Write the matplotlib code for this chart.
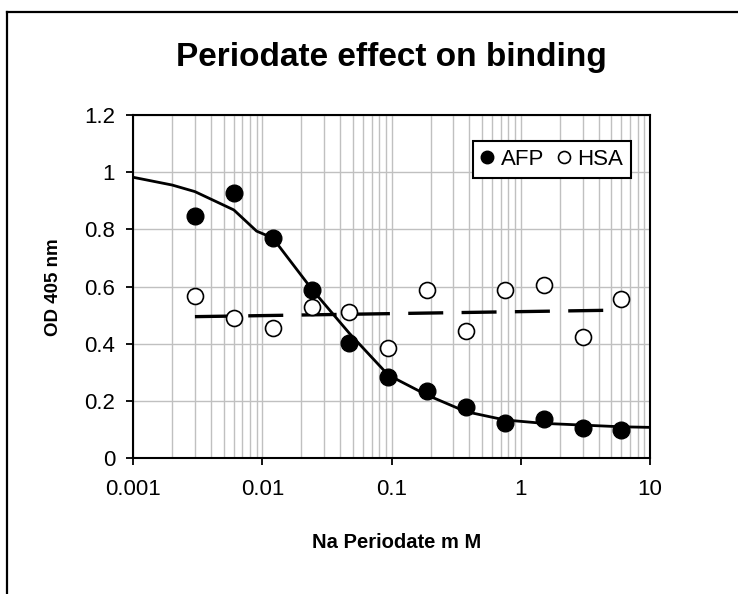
import numpy as np
import matplotlib.pyplot as plt
from matplotlib.lines import Line2D
from matplotlib.ticker import LogLocator, FixedLocator, NullFormatter

plt.rcParams['font.family'] = ['Liberation Sans', 'DejaVu Sans']

# Na periodate concentrations (mM)
conc = [0.003, 0.006, 0.012, 0.024, 0.047, 0.094, 0.1875, 0.375, 0.75, 1.5, 3, 6]
afp = [0.848, 0.926, 0.771, 0.588, 0.404, 0.285, 0.235, 0.178, 0.125, 0.138, 0.106, 0.100]
hsa = [0.568, 0.492, 0.457, 0.530, 0.510, 0.387, 0.588, 0.445, 0.588, 0.606, 0.425, 0.557]

# fitted curves
afp_fit_x = [0.001, 0.002, 0.003, 0.006, 0.009, 0.012, 0.024, 0.047, 0.094, 0.1875, 0.375, 0.75, 1.5, 3, 6, 10]
afp_fit_y = [0.982, 0.955, 0.932, 0.868, 0.794, 0.770, 0.592, 0.437, 0.291, 0.221, 0.163, 0.134, 0.122, 0.116, 0.110, 0.108]
hsa_fit_x = [0.003, 6]
hsa_fit_y = [0.495, 0.518]

x_ticks = [0.001, 0.01, 0.1, 1, 10]
x_labels = ['0.001', '0.01', '0.1', '1', '10']
y_ticks = [0, 0.2, 0.4, 0.6, 0.8, 1, 1.2]
y_labels = ['0', '0.2', '0.4', '0.6', '0.8', '1', '1.2']

fig = plt.figure(figsize=(7.38, 5.94), dpi=100)
ax = fig.add_axes([0.1806, 0.2285, 0.7003, 0.578])

# outer chart frame (runs off the right and bottom edges)
fig.add_artist(Line2D([0.0095, 1.0], [0.980, 0.980], color='black', lw=1.6, transform=fig.transFigure))
fig.add_artist(Line2D([0.0095, 0.0095], [0.0, 0.980], color='black', lw=1.6, transform=fig.transFigure))

ax.plot(afp_fit_x, afp_fit_y, color='black', lw=2.0, zorder=3)
ax.plot(hsa_fit_x, hsa_fit_y, color='black', lw=2.4, dashes=(10.5, 5.5), zorder=3)
ax.plot(conc, afp, 'o', color='black', ms=12, zorder=4, label='AFP')
ax.plot(conc, hsa, 'o', mfc='white', mec='black', mew=1.2, ms=11.5, zorder=4, label='HSA')

ax.set_xscale('log')
ax.set_xlim(0.001, 10)
ax.set_ylim(0, 1.2)

ax.xaxis.set_major_locator(FixedLocator(x_ticks))
ax.set_xticks(x_ticks)
ax.set_xticklabels(x_labels)
ax.xaxis.set_minor_locator(LogLocator(base=10, subs=np.arange(2, 10)))
ax.xaxis.set_minor_formatter(NullFormatter())
ax.set_yticks(y_ticks)
ax.set_yticklabels(y_labels)

ax.grid(True, which='both', axis='x', color='#c0c0c0', lw=1.0)
ax.grid(True, which='major', axis='y', color='#c0c0c0', lw=1.0)
ax.set_axisbelow(True)

ax.tick_params(axis='both', which='major', direction='out', length=5, width=1.3,
               labelsize=16, color='black')
ax.tick_params(axis='x', which='major', pad=10)
ax.tick_params(axis='y', which='major', pad=8)
ax.tick_params(axis='x', which='minor', length=0)
for sp in ax.spines.values():
    sp.set_linewidth(1.5)
    sp.set_color('black')

fig.text(0.5305, 0.903, 'Periodate effect on binding', ha='center', va='center',
         fontsize=24, fontweight='bold')
fig.text(0.072, 0.517, 'OD 405 nm', ha='center', va='center', rotation=90,
         fontsize=13.5, fontweight='bold')
fig.text(0.537, 0.086, 'Na Periodate m M', ha='center', va='center',
         fontsize=14.5, fontweight='bold')

leg = ax.legend(loc='upper right', bbox_to_anchor=(0.963, 0.924), borderaxespad=0,
                ncol=2, fontsize=16, frameon=True, fancybox=False, markerscale=0.75,
                handlelength=0.6, handletextpad=0.3, columnspacing=0.6,
                borderpad=0.35)
leg.get_frame().set_edgecolor('black')
leg.get_frame().set_linewidth(1.5)
leg.get_frame().set_alpha(1)

fig.savefig('out.png', dpi=100)
